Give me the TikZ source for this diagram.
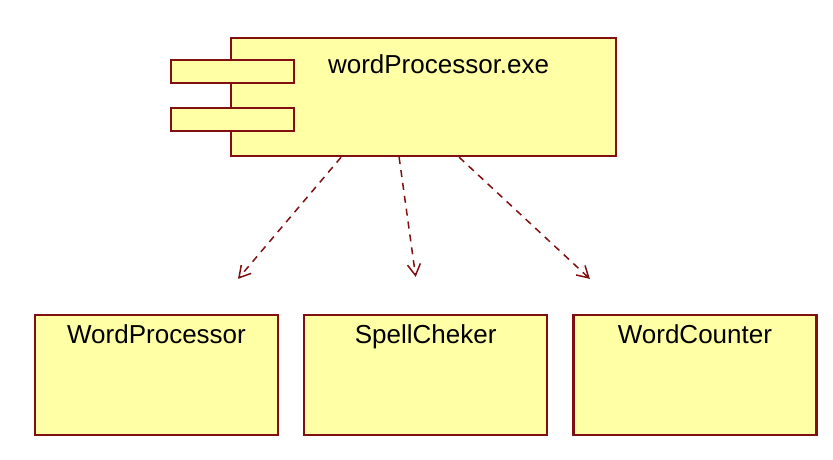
\documentclass[tikz,border=0pt]{standalone}
\usepackage{fontspec}
\setmainfont{Liberation Sans}
\usetikzlibrary{calc,chains,positioning,arrows.meta}
\definecolor{umlred}{RGB}{128,16,16}
\definecolor{umlfill}{RGB}{255,255,165}

\begin{document}
\begin{tikzpicture}[x=1pt,y=-1pt,
box/.style={
	draw=umlred, fill=umlfill, line width=2.2pt,
	rectangle, inner sep=0pt, text=black,
	font=\fontsize{26}{30}\selectfont
},
cls/.style={box, minimum width=243pt, text height=28pt, text depth=92pt},
tab/.style={box, minimum width=123pt, minimum height=23pt, anchor=north west},
dep/.style={umlred, line width=1.5pt, dash pattern=on 7pt off 6pt,
	-{Straight Barb[angle=60:13pt]}},
start chain=going right, node distance=24pt
]
\useasboundingbox (0,0) rectangle (833,460);
% the component and its two tabs
\node[box, minimum width=385pt, text height=35pt, text depth=83pt,
	anchor=north west] (exe) at (230,37) {\hspace*{30pt}wordProcessor.exe};
\node[tab] (t1) at (170,59) {};
\node[tab] (t2) at (170,107) {};
% the classes
\node[cls,on chain] (wp) at (156.5,375) {WordProcessor};
\node[cls,on chain] (sc) {SpellCheker};
\node[cls,on chain] (wc) {WordCounter};
\coordinate (e1) at ([xshift=81.5pt,yshift=35pt]wp.north);
\coordinate (e2) at ([xshift=-10pt,yshift=37pt]sc.north);
\coordinate (e3) at ([xshift=-105pt,yshift=35pt]wc.north);
\coordinate (s1) at ([xshift=-82.5pt]exe.south);
\coordinate (s2) at ([xshift=-24.5pt]exe.south);
\coordinate (s3) at ([xshift=35.5pt]exe.south);
\foreach \i in {1,2,3}
{
	\draw[dep] (s\i) -- (e\i);
}
\end{tikzpicture}
\end{document}
